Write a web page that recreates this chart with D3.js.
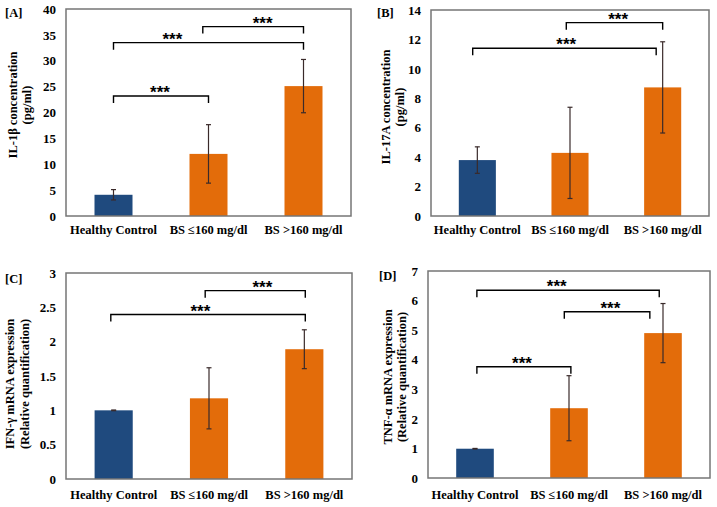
<!DOCTYPE html>
<html>
<head>
<meta charset="utf-8">
<script src="https://cdn.jsdelivr.net/npm/d3@7"></script>
<style>
  html, body { margin: 0; padding: 0; background: #ffffff; }
  svg { display: block; }
  text { font-family: "Liberation Serif", "Times New Roman", serif; font-weight: bold; fill: #000; }
</style>
</head>
<body>
<svg id="chart" width="717" height="507"></svg>
<script>
// ---------- DATA ----------
const categories = ["Healthy Control", "BS \u2264160 mg/dl", "BS >160 mg/dl"];

const il1bMean = [4.1, 12.0, 25.1];
const il1bSD   = [1.0, 5.65, 5.15];
const il1bTicks = [0, 5, 10, 15, 20, 25, 30, 35, 40];
// brackets: [fromIndex, toIndex, yValue, labelIndexPos]
const il1bBrackets = [[0, 1, 23.2, 0.49], [0, 2, 33.5, 0.62], [0.94, 2, 36.6, 1.57]];

const il17Mean = [3.8, 4.29, 8.74];
const il17SD   = [0.9, 3.1, 3.1];
const il17Ticks = [0, 2, 4, 6, 8, 10, 12, 14];
const il17Brackets = [[-0.05, 1.93, 11.4, 0.96], [0.96, 2.0, 13.14, 1.52]];

const ifngMean = [1.0, 1.175, 1.89];
const ifngSD   = [0.005, 0.445, 0.283];
const ifngTicks = [0, 0.5, 1, 1.5, 2, 2.5, 3];
const ifngBrackets = [[-0.03, 2.01, 2.395, 0.91], [0.96, 2.01, 2.743, 1.56]];

const tnfaMean = [0.99, 2.36, 4.9];
const tnfaSD   = [0.01, 1.1, 1.0];
const tnfaTicks = [0, 1, 2, 3, 4, 5, 6, 7];
const tnfaBrackets = [[0.02, 1.96, 6.35, 0.87], [0.95, 1.86, 5.62, 1.44], [0.02, 1.02, 3.76, 0.5]];

const panelLabels = ["[A]", "[B]", "[C]", "[D]"];
const yTitles = [
  ["IL-1\u03b2 concentration", "(pg/ml)"],
  ["IL-17A concentration", "(pg/ml)"],
  ["IFN-\u03b3 mRNA expression", "(Relative quantification)"],
  ["TNF-\u03b1 mRNA expression", "(Relative quantification)"]
];
const barColors = ["#1f4a7e", "#e36c0a", "#e36c0a"];

// ---------- LAYOUT ----------
const panels = [
  { mean: il1bMean, sd: il1bSD, ticks: il1bTicks, brackets: il1bBrackets, label: panelLabels[0], title: yTitles[0],
    box: { l: 66, r: 351, t: 9, b: 216 }, lab: { x: 5, y: 17 }, tx: [13, 27], ty: 105, xlabY: 234 },
  { mean: il17Mean, sd: il17SD, ticks: il17Ticks, brackets: il17Brackets, label: panelLabels[1], title: yTitles[1],
    box: { l: 431, r: 709, t: 10, b: 216 }, lab: { x: 377, y: 17 }, tx: [386, 400], ty: 107, xlabY: 234 },
  { mean: ifngMean, sd: ifngSD, ticks: ifngTicks, brackets: ifngBrackets, label: panelLabels[2], title: yTitles[2],
    box: { l: 66, r: 352, t: 273, b: 479 }, lab: { x: 5, y: 283 }, tx: [10, 25], ty: 384, xlabY: 499 },
  { mean: tnfaMean, sd: tnfaSD, ticks: tnfaTicks, brackets: tnfaBrackets, label: panelLabels[3], title: yTitles[3],
    box: { l: 428, r: 710, t: 271, b: 478 }, lab: { x: 379, y: 280 }, tx: [388, 402], ty: 377, xlabY: 499 }
];

const svg = d3.select("#chart");

panels.forEach((p) => {
  const g = svg.append("g");
  const B = p.box;
  const x = d3.scaleBand().domain(categories).range([B.l, B.r]).paddingInner(0.6).paddingOuter(0.3);
  const y = d3.scaleLinear().domain([0, d3.max(p.ticks)]).range([B.b, B.t]);
  const xi = d3.scaleLinear().domain([0, 2])
    .range([x(categories[0]) + x.bandwidth() / 2, x(categories[2]) + x.bandwidth() / 2]);

  // bars
  g.selectAll("rect.bar").data(p.mean).join("rect")
    .attr("class", "bar")
    .attr("x", (d, i) => x(categories[i]))
    .attr("width", x.bandwidth())
    .attr("y", d => y(d))
    .attr("height", d => y(0) - y(d))
    .attr("fill", (d, i) => barColors[i]);

  // error bars
  const eb = g.selectAll("g.err").data(p.mean).join("g").attr("class", "err");
  const cx = i => x(categories[i]) + x.bandwidth() / 2;
  eb.append("line")
    .attr("x1", (d, i) => cx(i)).attr("x2", (d, i) => cx(i))
    .attr("y1", (d, i) => y(d + p.sd[i])).attr("y2", (d, i) => y(d - p.sd[i]))
    .attr("stroke", "#3a2a2a").attr("stroke-width", 1.2);
  [1, -1].forEach(s => {
    eb.append("line")
      .attr("x1", (d, i) => cx(i) - 2.5).attr("x2", (d, i) => cx(i) + 2.5)
      .attr("y1", (d, i) => y(d + s * p.sd[i])).attr("y2", (d, i) => y(d + s * p.sd[i]))
      .attr("stroke", "#3a2a2a").attr("stroke-width", 1.2);
  });

  // plot border
  g.append("rect")
    .attr("x", B.l).attr("y", B.t).attr("width", B.r - B.l).attr("height", B.b - B.t)
    .attr("fill", "none").attr("stroke", "#767676").attr("stroke-width", 1.5);

  // y axis
  const fmt = d => String(d);
  const ya = g.append("g").attr("transform", `translate(${B.l},0)`)
    .call(d3.axisLeft(y).tickValues(p.ticks).tickFormat(fmt).tickSize(0).tickPadding(10));
  ya.select(".domain").remove();
  ya.selectAll("text").style("font-family", '"Liberation Serif", serif')
    .style("font-weight", "bold").style("font-size", "13px").attr("fill", "#000");

  // x labels
  g.selectAll("text.xl").data(categories).join("text")
    .attr("class", "xl")
    .attr("x", d => x(d) + x.bandwidth() / 2)
    .attr("y", p.xlabY)
    .attr("text-anchor", "middle")
    .style("font-size", "12.5px")
    .text(d => d);

  // y title
  p.title.forEach((t, k) => {
    g.append("text")
      .attr("transform", `translate(${p.tx[k] + 4},${p.ty}) rotate(-90)`)
      .attr("text-anchor", "middle")
      .style("font-size", "12.5px")
      .text(t);
  });

  // panel label
  g.append("text").attr("x", p.lab.x).attr("y", p.lab.y)
    .style("font-size", "12.5px").text(p.label);

  // significance brackets
  p.brackets.forEach(br => {
    const x1 = xi(br[0]), x2 = xi(br[1]), yy = y(br[2]);
    g.append("path")
      .attr("d", `M${x1},${yy + 7}V${yy}H${x2}V${yy + 7}`)
      .attr("fill", "none").attr("stroke", "#000").attr("stroke-width", 1.4);
    g.append("text")
      .attr("x", xi(br[3])).attr("y", yy + 2)
      .attr("text-anchor", "middle")
      .style("font-family", '"Liberation Sans", Arial, sans-serif')
      .style("font-size", "17px")
      .text("***");
  });
});
</script>
</body>
</html>
